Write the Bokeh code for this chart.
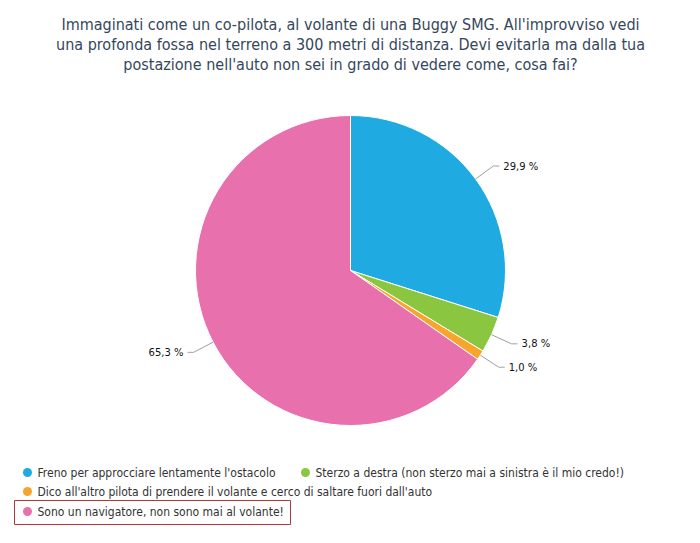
import math
from bokeh.plotting import figure
from bokeh.models import Range1d
from bokeh.core.properties import value
from bokeh.embed import file_html
from bokeh.resources import INLINE

title_lines = [
    "Immaginati come un co-pilota, al volante di una Buggy SMG. All'improvviso vedi",
    "una profonda fossa nel terreno a 300 metri di distanza. Devi evitarla ma dalla tua",
    "postazione nell'auto non sei in grado di vedere come, cosa fai?",
]
categories = [
    "Freno per approcciare lentamente l'ostacolo",
    "Sterzo a destra (non sterzo mai a sinistra è il mio credo!)",
    "Dico all'altro pilota di prendere il volante e cerco di saltare fuori dall'auto",
    "Sono un navigatore, non sono mai al volante!",
]
values = [29.9, 3.8, 1.0, 65.3]
labels = ["29,9 %", "3,8 %", "1,0 %", "65,3 %"]
colors = ["#1faae1", "#8bc641", "#f8a52e", "#e770ad"]

W, H = 684, 527
def X(px): return px
def Y(py): return H - py

p = figure(width=W, height=H, output_backend="svg", toolbar_location=None,
           x_range=Range1d(0, W), y_range=Range1d(0, H), min_border=0)
p.axis.visible = False
p.grid.visible = False
p.outline_line_color = None
p.background_fill_color = "white"

COND = value("DejaVu Sans Condensed")
for i, t in enumerate(title_lines):
    p.text(x=[X(350)], y=[Y(24 + 20 * i)], text=[t], text_font=COND,
           text_font_size="16px", text_color="#34475a", text_align="center",
           text_baseline="middle")

cx, cy, r = X(350), Y(270), 155
total = sum(values)
cum = 0.0
for v, c, lab in zip(values, colors, labels):
    a0 = math.pi / 2 - cum / total * 2 * math.pi
    a1 = math.pi / 2 - (cum + v) / total * 2 * math.pi
    p.wedge(x=[cx], y=[cy], radius=r, start_angle=a1, end_angle=a0,
            fill_color=c, line_color="white", line_width=1)
    mid = (a0 + a1) / 2
    ex, ey = cx + r * math.cos(mid), cy + r * math.sin(mid)
    kx, ky = cx + (r + 22) * math.cos(mid), cy + (r + 22) * math.sin(mid)
    side = 1 if math.cos(mid) >= 0 else -1
    hx = kx + side * 6
    p.line(x=[ex, kx, hx], y=[ey, ky, ky], line_color="#a0a0a0", line_width=1)
    p.text(x=[kx + side * 10], y=[ky], text=[lab], text_font=value("DejaVu Sans"),
           text_font_size="10px", text_color="#111111",
           text_align="left" if side > 0 else "right", text_baseline="middle")
    cum += v

# legend
leg_pos = [(27, 472), (305, 472), (27, 491), (27, 511)]
for (lx, ly), c, name in zip(leg_pos, colors, categories):
    p.scatter(x=[X(lx)], y=[Y(ly)], size=9, marker="circle", fill_color=c, line_color=None)
    p.text(x=[X(lx + 10)], y=[Y(ly)], text=[name], text_font=COND,
           text_font_size="12px", text_color="#333333", text_align="left",
           text_baseline="middle")
p.quad(left=[X(14)], right=[X(290)], top=[Y(500)], bottom=[Y(524)],
       fill_color=None, line_color="#b0383c", line_width=1)

open("out.html", "w").write(file_html(p, INLINE))
